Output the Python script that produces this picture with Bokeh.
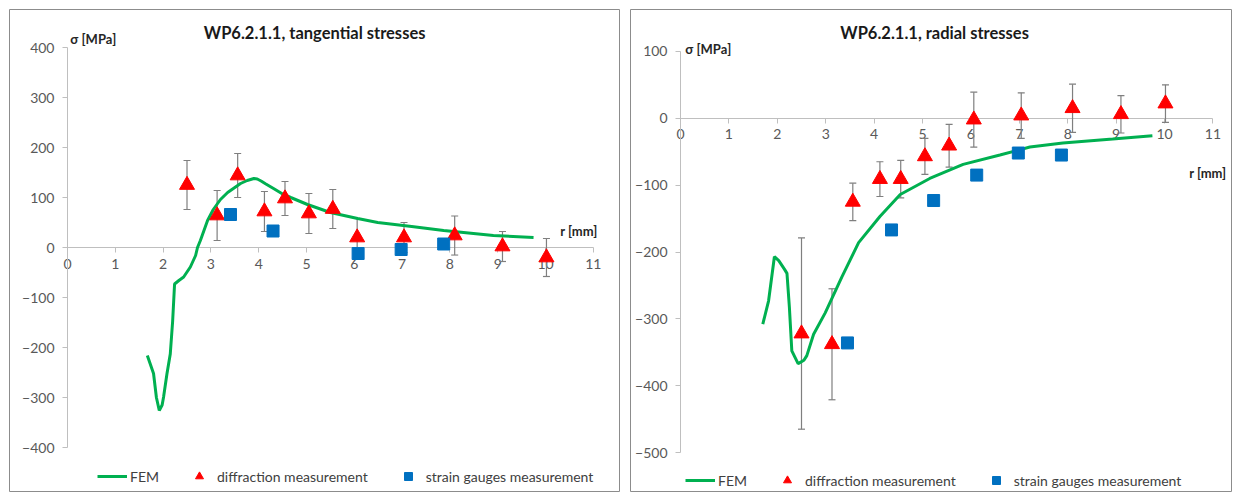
from bokeh.plotting import figure
from bokeh.models import (LinearAxis, FixedTicker, Whisker, ColumnDataSource, Label,
                          Legend, LegendItem, TeeHead, Range1d)
from bokeh.layouts import row
from bokeh.embed import file_html
from bokeh.resources import INLINE

FONT = "Lato"

# ---------------- data ----------------
x_ticks = [0, 1, 2, 3, 4, 5, 6, 7, 8, 9, 10, 11]
tang_y_ticks = [-400, -300, -200, -100, 0, 100, 200, 300, 400]
rad_y_ticks = [-500, -400, -300, -200, -100, 0, 100]

# tangential stresses
tang_fem_r = [1.67, 1.80, 1.86, 1.92, 1.98, 2.01, 2.08, 2.15, 2.20, 2.24, 2.33, 2.43, 2.57,
              2.68, 2.72, 2.78, 2.93, 3.05, 3.20, 3.35, 3.47, 3.62, 3.76, 3.90, 3.97, 4.05,
              4.15, 4.31, 4.50, 4.67, 5.02, 5.50, 6.07, 6.49, 7.20, 7.87, 8.91, 9.75]
tang_fem_s = [-216, -252, -300, -326, -315, -299, -253, -213, -147, -73, -66, -59, -39,
              -16, 0, 14, 54, 76, 96, 110, 118, 128, 134, 138, 137, 133,
              127, 118, 107, 100, 86, 70, 58, 50, 42, 34, 24, 20]

diff_r = [2.50, 3.13, 3.56, 4.12, 4.55, 5.05, 5.55, 6.06, 7.04, 8.10, 9.10, 10.02]
tang_diff_s = [125, 64, 144, 72, 98, 68, 77, 20, 20, 24, 2, -20]
tang_diff_err = [49, 50, 44, 40, 34, 40, 39, 38, 30, 39, 30, 38]

tang_sg_r = [3.41, 4.30, 6.08, 6.98, 7.87]
tang_sg_s = [66, 33, -12, -4, 7]

# radial stresses
rad_fem_r = [1.70, 1.82, 1.94, 2.03, 2.15, 2.20, 2.25, 2.30, 2.43, 2.55, 2.61, 2.75, 2.99,
             3.33, 3.68, 4.12, 4.54, 5.15, 5.84, 6.60, 7.22, 7.90, 8.93, 9.75]
rad_fem_s = [-308, -273, -207, -213, -226, -232, -283, -348, -367, -362, -355, -323, -291,
             -238, -186, -147, -114, -90, -69, -55, -43, -37, -31, -26]

rad_diff_s = [-322, -338, -125, -91, -91, -57, -41, -2, 4, 15, 6, 22]
rad_diff_err = [143, 83, 28, 26, 28, 27, 32, 41, 34, 36, 28, 28]

rad_sg_r = [3.45, 4.36, 5.23, 6.12, 6.98, 7.87]
rad_sg_s = [-336, -167, -123, -85, -52, -55]


def make_panel(title, fem_r, fem_s, d_r, d_s, d_err, sg_r, sg_s, y_ticks,
               xr, yr, width, height, mb_left, mb_top, title_xy, sigma_xy, r_xy, legend_loc):
    p = figure(width=width, height=height, x_range=Range1d(*xr), y_range=Range1d(*yr),
               output_backend="svg", toolbar_location=None,
               x_axis_location=None, y_axis_location=None,
               min_border_left=mb_left, min_border_top=mb_top,
               min_border_right=0, min_border_bottom=0)
    p.xgrid.visible = False
    p.ygrid.visible = False
    p.outline_line_color = "#8c8c8c"
    p.outline_line_width = 1
    p.background_fill_color = "white"
    p.border_fill_color = "white"

    common = dict(axis_line_color="#bfbfbf", axis_line_width=1,
                  major_tick_line_color="#bfbfbf", major_tick_in=0, major_tick_out=5,
                  minor_tick_in=0, minor_tick_out=0,
                  major_label_text_font=FONT, major_label_text_font_size="14px",
                  major_label_text_color="#595959")
    xaxis = LinearAxis(fixed_location=0, ticker=FixedTicker(ticks=x_ticks),
                       bounds=(x_ticks[0], x_ticks[-1]), major_label_standoff=6, **common)
    yaxis = LinearAxis(fixed_location=0, ticker=FixedTicker(ticks=y_ticks),
                       bounds=(y_ticks[0], y_ticks[-1]), major_label_standoff=8, **common)
    xaxis.level = "underlay"
    yaxis.level = "underlay"
    p.add_layout(xaxis, "below")
    p.add_layout(yaxis, "left")

    src = ColumnDataSource(dict(x=d_r,
                                lower=[s - e for s, e in zip(d_s, d_err)],
                                upper=[s + e for s, e in zip(d_s, d_err)]))
    wh = Whisker(base="x", lower="lower", upper="upper", source=src,
                 line_color="#7f7f7f", line_width=1.2,
                 upper_head=TeeHead(size=7, line_color="#7f7f7f", line_width=1.2),
                 lower_head=TeeHead(size=7, line_color="#7f7f7f", line_width=1.2))
    wh.level = "underlay"
    p.add_layout(wh)

    fem = p.line(fem_r, fem_s, line_color="#00B050", line_width=3)
    tri = p.scatter(d_r, d_s, marker="triangle", size=15,
                    fill_color="#FF0000", line_color="#FF0000")
    sq = p.scatter(sg_r, sg_s, marker="square", size=12,
                   fill_color="#0070C0", line_color="#0070C0")

    p.add_layout(Label(x=title_xy[0], y=title_xy[1], text=title, text_align="center",
                       text_baseline="middle", text_font=FONT, text_font_size="16.5px",
                       text_font_style="bold", text_color="#1a1a1a"))
    p.add_layout(Label(x=sigma_xy[0], y=sigma_xy[1], text="σ [MPa]", text_align="left",
                       text_baseline="middle", text_font=FONT, text_font_size="13px",
                       text_font_style="bold", text_color="#262626"))
    p.add_layout(Label(x=r_xy[0], y=r_xy[1], text="r [mm]", text_align="right",
                       text_baseline="middle", text_font=FONT, text_font_size="13px",
                       text_font_style="bold", text_color="#262626"))

    legend = Legend(items=[LegendItem(label="FEM", renderers=[fem]),
                           LegendItem(label="diffraction measurement", renderers=[tri]),
                           LegendItem(label="strain gauges measurement", renderers=[sq])],
                    orientation="horizontal", location=legend_loc,
                    glyph_width=30, glyph_height=20, label_standoff=3, spacing=25,
                    padding=0, margin=0, border_line_alpha=0, background_fill_alpha=0,
                    label_text_font=FONT, label_text_font_size="14px",
                    label_text_color="#404040")
    p.add_layout(legend)
    return p


H = 492  # figure height; frame bottom at page y = H

p1 = make_panel("WP6.2.1.1, tangential stresses", tang_fem_r, tang_fem_s, diff_r,
                tang_diff_s, tang_diff_err, tang_sg_r, tang_sg_s, tang_y_ticks,
                xr=((9 - 67) / 47.8, (620 - 67) / 47.8),
                yr=((247 - H) * 2, (247 - 9) * 2),
                width=620, height=H, mb_left=9, mb_top=9,
                title_xy=(5.17, 430), sigma_xy=(0.06, 418), r_xy=(11.09, 34),
                legend_loc=(88, H - 486))

p2 = make_panel("WP6.2.1.1, radial stresses", rad_fem_r, rad_fem_s, diff_r,
                rad_diff_s, rad_diff_err, rad_sg_r, rad_sg_s, rad_y_ticks,
                xr=((630 - 680) / 48.4, (1232 - 680) / 48.4),
                yr=((117 - H) * 1.4925, (117 - 8) * 1.4925),
                width=612, height=H, mb_left=10, mb_top=8,
                title_xy=(5.25, 128), sigma_xy=(0.1, 104), r_xy=(11.28, -82),
                legend_loc=(55, H - 490))

layout = row(p1, p2, spacing=0)
open("out.html", "w").write(file_html(layout, INLINE))
